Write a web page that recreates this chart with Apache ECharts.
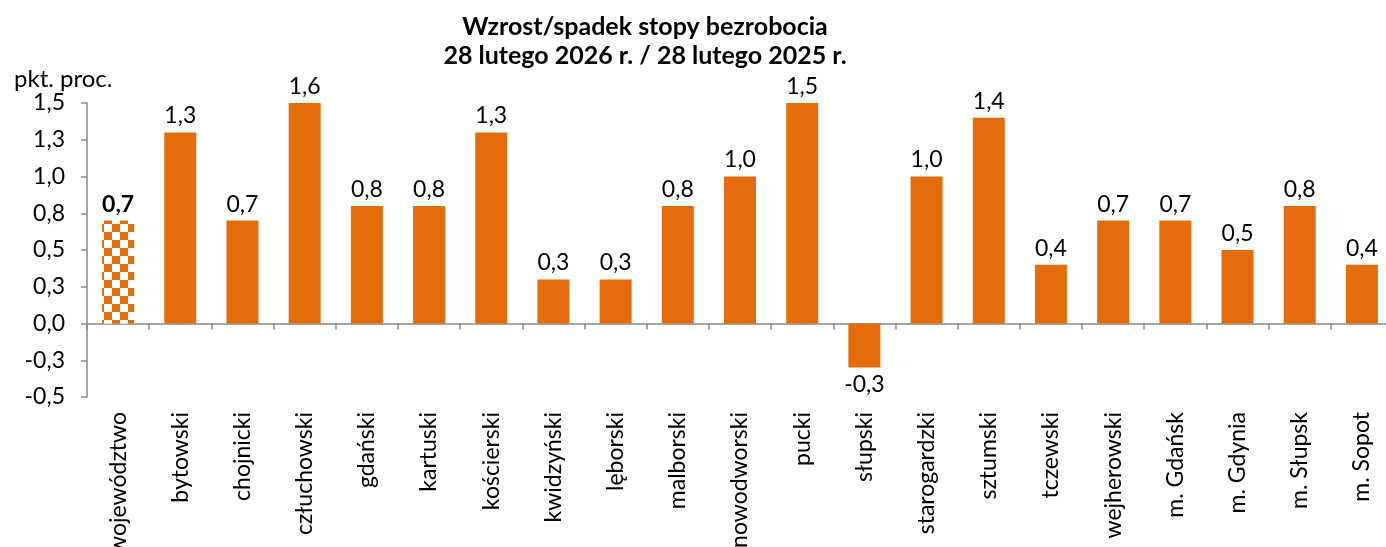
<!DOCTYPE html>
<html>
<head>
<meta charset="utf-8">
<script src="https://cdn.jsdelivr.net/npm/echarts@6/dist/echarts.min.js"></script>
<style>
  html, body { margin: 0; padding: 0; background: #fff; }
  #chart { width: 1386px; height: 547px; }
</style>
</head>
<body>
<div id="chart"></div>
<script>
// kategorie (powiaty) i zmiana stopy bezrobocia w pkt. proc.
const categories = ['województwo', 'bytowski', 'chojnicki', 'człuchowski', 'gdański', 'kartuski',
  'kościerski', 'kwidzyński', 'lęborski', 'malborski', 'nowodworski', 'pucki', 'słupski',
  'starogardzki', 'sztumski', 'tczewski', 'wejherowski', 'm. Gdańsk', 'm. Gdynia', 'm. Słupsk', 'm. Sopot']
const values = [0.7, 1.3, 0.7, 1.6, 0.8, 0.8, 1.3, 0.3, 0.3, 0.8, 1.0, 1.5, -0.3, 1.0, 1.4, 0.4, 0.7, 0.7, 0.5, 0.8, 0.4]
const yMin = -0.5
const yMax = 1.5
const yStep = 0.25

const ORANGE = '#E46C0A'
const FONT = 'Lato'

// wzór w szachownicę dla słupka województwa
function checkerPattern() {
  const c = document.createElement('canvas')
  c.width = 16
  c.height = 16
  const ctx = c.getContext('2d')
  ctx.fillStyle = '#fff'
  ctx.fillRect(0, 0, 16, 16)
  ctx.fillStyle = ORANGE
  ctx.fillRect(0, 0, 8, 8)
  ctx.fillRect(8, 8, 8, 8)
  return c
}

const fmt = v => v.toFixed(1).replace('.', ',')

const seriesData = values.map((v, i) => {
  const item = { value: v }
  if (i === 0) {
    item.itemStyle = { color: { image: checkerPattern(), repeat: 'repeat' } }
    item.label = { fontWeight: 'bold' }
  }
  if (v < 0) item.label = { position: 'bottom' }
  return item
})

const myChart = echarts.init(document.getElementById('chart'))
myChart.setOption({
  animation: false,
  title: [
    {
      text: 'Wzrost/spadek stopy bezrobocia\n28 lutego 2026 r. / 28 lutego 2025 r.',
      left: 640, top: 7, textAlign: 'center',
      textStyle: { fontFamily: FONT, fontSize: 25, fontWeight: 'bold', color: '#000', lineHeight: 29 }
    },
    {
      text: 'pkt. proc.',
      left: 9, top: 62,
      textStyle: { fontFamily: FONT, fontSize: 24, fontWeight: 'normal', color: '#000' }
    }
  ],
  grid: { left: 87, top: 103, bottom: 150, width: 1306, outerBoundsMode: 'none' },
  xAxis: {
    type: 'category',
    data: categories,
    axisLine: { onZero: true, lineStyle: { color: '#898989', width: 1.5 } },
    axisTick: { show: true, length: 6, lineStyle: { color: '#898989', width: 1.5 } },
    axisLabel: {
      rotate: 90, margin: 15, interval: 0,
      fontFamily: FONT, fontSize: 23, color: '#000'
    },
    splitLine: { show: false }
  },
  yAxis: {
    type: 'value',
    min: yMin, max: yMax, interval: yStep,
    axisLine: { show: true, lineStyle: { color: '#898989', width: 1.5 } },
    axisTick: { show: true, length: 6, lineStyle: { color: '#898989', width: 1.5 } },
    axisLabel: { margin: 22, fontFamily: FONT, fontSize: 23, color: '#000', formatter: fmt },
    splitLine: { show: false }
  },
  series: [{
    type: 'bar',
    data: seriesData,
    barWidth: 32,
    itemStyle: { color: ORANGE },
    label: {
      show: true, position: 'top', distance: 5,
      fontFamily: FONT, fontSize: 23, color: '#000',
      formatter: p => fmt(p.value)
    }
  }]
})
</script>
</body>
</html>
